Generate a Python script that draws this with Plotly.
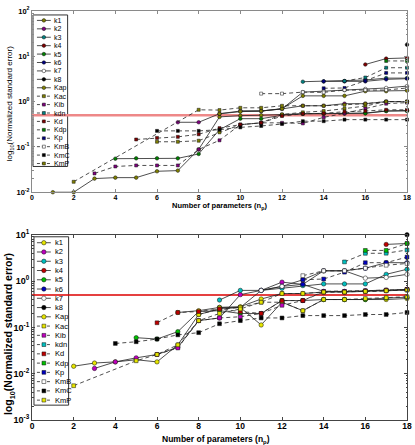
import plotly.graph_objects as go

N = None
X = list(range(1, 19))
NAMES = ["k1", "k2", "k3", "k4", "k5", "k6", "k7", "k8", "Kap", "Kac", "Kib", "kdn",
         "Kd", "Kdp", "Kp", "KmB", "KmC", "KmP"]
SYMBOLS = ["circle"] * 9 + ["square"] * 9
DASHES = ["solid"] * 9 + ["dash"] * 9
TOP_COLORS = ["#808000", "#800080", "#008080", "#800000", "#008000", "#000080", "#ffffff", "#000000",
              "#808000", "#808000", "#800080", "#008080", "#800000", "#008000", "#000080", "#ffffff",
              "#000000", "#808000"]
BOT_COLORS = ["#e6e600", "#bf00bf", "#00bfbf", "#bf0000", "#00bf00", "#0000bf", "#ffffff", "#000000",
              "#e6e600", "#e6e600", "#bf00bf", "#00bfbf", "#bf0000", "#00bf00", "#0000bf", "#ffffff",
              "#000000", "#e6e600"]
THRESHOLD = 0.5

# ---- top panel values (x = 1..18) ----
top_k1 = [0.01, 0.01, 0.020, 0.021, 0.021, 0.029, 0.030, 0.088, 0.46, 0.49, 0.50, 0.52, 0.54, 0.54, 0.55, 0.56, 0.62, 0.64]
top_k2 = [N]*6 + [0.35, 0.35, 0.54, 0.62, 0.62, 0.69, 0.81, 0.81, 0.90, 0.90, 1.0, 1.0]
top_k3 = [N]*12 + [2.75, 2.8, 2.85, 3.0, 3.3, 3.3]
top_k4 = [N]*15 + [6.6, 8.9, 9.2]
top_k5 = [N]*3 + [0.055, 0.056, 0.056, 0.056, 0.07, 0.24, 0.42, 0.42, 0.50, 0.54, 0.55, 0.55, 0.55, 0.62, 0.62]
top_k6 = [N]*13 + [2.8, 2.8, 2.8, 3.1, 3.2]
top_k7 = [N]*9 + [0.62, 0.62, 0.69, 1.62, 1.7, 1.8, 1.9, 2.0, 2.2]
top_k8 = [N]*17 + [18]
top_Kap = [N]*8 + [0.54, 0.60, 0.62, 0.70, 1.34, 1.34, 1.34, 1.7, 1.7, 1.75]
top_Kac = [N]*5 + [0.13, 0.13, 0.137, 0.21, 0.31, 0.34, 0.52, 0.58, 0.62, 0.70, 0.80, 1.0, 1.0]
top_Kib = [N, N, 0.026, 0.037, 0.039, 0.039, 0.039, 0.088, 0.14, 0.31, 0.34, 0.34, 0.33, 0.45, 0.55, 0.70, 0.90, 0.95]
top_kdn = [N]*14 + [2.85, 3.4, 5.6, 5.6]
top_Kd = [N]*4 + [0.146, 0.158, 0.167, 0.19, 0.26, 0.31, 0.34, 0.48, 0.54, 0.55, 0.60, 0.62, 0.66, 0.66]
top_Kdp = [N]*16 + [7.9, 7.9]
top_Kp = [N]*13 + [1.97, 2.0, 2.9, 4.3, 4.3]
top_KmB = [N]*10 + [1.5, 1.5, 1.62, 1.6, 1.8, 1.8, 1.8, 2.0]
top_KmC = [N]*5 + [0.226, 0.226, 0.226, 0.24, 0.27, 0.29, 0.32, 0.37, 0.37, 0.40, 0.40, 0.40, 0.40]
top_KmP = [N, 0.017, N, N, N, N, N, 0.66, 0.65, 0.73, 0.73, 0.81, 0.81, 0.81, 0.85, 0.90, 1.0, 1.0]

# ---- bottom panel values (x = 1..18) ----
bot_k1 = [N, 0.0145, 0.017, 0.018, 0.020, 0.018, 0.042, 0.19, 0.25, 0.27, 0.113, 0.35, 0.23, 0.40, 0.40, 0.40, 0.40, 0.42]
bot_k2 = [N, N, 0.013, 0.018, 0.022, 0.026, 0.037, 0.14, 0.16, 0.51, 0.63, 0.95, 0.85, 0.60, 0.60, 0.62, 0.64, 0.66]
bot_k3 = [N]*8 + [0.39, 0.63, 0.63, 0.70, 0.80, 0.87, 0.87, 0.87, 1.4, 1.8]
bot_k4 = [N]*16 + [6.2, 6.5]
bot_k5 = [N]*4 + [0.06, 0.056, 0.081, 0.22, 0.23, 0.20, 0.20, 0.38, 0.38, 0.40, 0.40, 0.40, 0.43, 0.45]
bot_k6 = [N]*8 + [0.27, 0.27, 0.63, 0.77, 0.85, 1.67, 1.67, 1.9, 2.5, 2.5]
bot_k7 = [N]*10 + [0.63, 0.77, 1.07, 1.67, 1.67, 1.16, 1.2, 1.4]
bot_k8 = [N]*17 + [10]
bot_Kap = [N]*6 + [0.21, 0.23, 0.27, 0.28, 0.41, 0.54, 0.54, 0.58, 0.58, 0.60, 0.62, 0.64]
bot_Kac = [N]*7 + [0.19, 0.25, 0.27, 0.35, 0.35, 0.23, 0.40, 0.40, 0.42, 0.44, 0.46]
bot_Kib = [N]*5 + [0.026, 0.036, 0.14, 0.16, 0.17, 0.20, 0.30, 0.38, 0.60, 0.60, 0.62, 0.64, 0.66]
bot_kdn = [N]*14 + [2.6, 3.98, 4.0, 4.7]
bot_Kd = [N]*5 + [0.126, 0.21, 0.22, 0.25, 0.22, 0.20, 0.38, 0.38, 0.58, 0.58, 0.60, 0.62, 0.66]
bot_Kdp = [N]*15 + [4.6, 4.6, 6.5]
bot_Kp = [N]*12 + [1.07, 1.11, 1.56, 2.5, 2.5, 3.3]
bot_KmB = [N]*12 + [1.31, 1.67, 1.67, 1.9, 2.2, 2.4]
bot_KmC = [N]*3 + [0.045, 0.049, 0.056, 0.069, 0.077, 0.12, 0.14, 0.16, 0.16, 0.18, 0.18, 0.18, 0.19, 0.19, 0.21]
bot_KmP = [N, 0.0055, N, N, 0.019, 0.026, 0.042, 0.14, 0.20, 0.25, 0.35, 0.54, 0.54, 0.58, 0.58, 0.60, 0.62, 0.64]

TOP = [top_k1, top_k2, top_k3, top_k4, top_k5, top_k6, top_k7, top_k8, top_Kap, top_Kac,
       top_Kib, top_kdn, top_Kd, top_Kdp, top_Kp, top_KmB, top_KmC, top_KmP]
BOT = [bot_k1, bot_k2, bot_k3, bot_k4, bot_k5, bot_k6, bot_k7, bot_k8, bot_Kap, bot_Kac,
       bot_Kib, bot_kdn, bot_Kd, bot_Kdp, bot_Kp, bot_KmB, bot_KmC, bot_KmP]

XTICKS = list(range(0, 19, 2))
TOP_YT = [0.01, 0.1, 1, 10, 100]
TOP_YL = ["10<sup>-2</sup>", "10<sup>-1</sup>", "10<sup>0</sup>", "10<sup>1</sup>", "10<sup>2</sup>"]
BOT_YT = [0.001, 0.01, 0.1, 1, 10]
BOT_YL = ["10<sup>-3</sup>", "10<sup>-2</sup>", "10<sup>-1</sup>", "10<sup>0</sup>", "10<sup>1</sup>"]

W, H = 415, 445
ML, MR, MT, MB = 32, 4, 7, 25
PW, PH = W - ML - MR, H - MT - MB
FONT = "Liberation Sans, Arial, sans-serif"


def px(xp):
    return (xp - ML) / PW


def py(yp):
    return (H - MB - yp) / PH


fig = go.Figure()

# threshold lines
fig.add_trace(go.Scatter(x=[0, 18], y=[THRESHOLD, THRESHOLD], mode="lines",
                         line=dict(color="#ee8888", width=2.5), xaxis="x", yaxis="y",
                         showlegend=False, hoverinfo="skip"))
fig.add_trace(go.Scatter(x=[0, 18], y=[THRESHOLD, THRESHOLD], mode="lines",
                         line=dict(color="#dd0000", width=1.5), xaxis="x2", yaxis="y2",
                         showlegend=False, hoverinfo="skip"))

for data, colors, xa, ya, msz in [(TOP, TOP_COLORS, "x", "y", 3.6),
                                  (BOT, BOT_COLORS, "x2", "y2", 4.4)]:
    for i, vals in enumerate(data):
        fig.add_trace(go.Scatter(
            x=X, y=vals, mode="lines+markers", connectgaps=True, name=NAMES[i],
            line=dict(color="#222222", width=0.8, dash="4px,3px" if DASHES[i] == "dash" else "solid"),
            marker=dict(symbol=SYMBOLS[i], size=msz if SYMBOLS[i] == "circle" else msz - 0.6,
                        color=colors[i], line=dict(color="#111111", width=0.5)),
            xaxis=xa, yaxis=ya, showlegend=False, cliponaxis=False))

# compact legends, drawn on a pixel-scaled helper axis
annotations = []
shapes = []
LEG = [
    dict(box=(33, 11, 68, 164), y0=16.5, dy=8.5, colors=TOP_COLORS, msz=3.6, fs=7, tx=52),
    dict(box=(34, 235, 69, 405), y0=241.0, dy=9.35, colors=BOT_COLORS, msz=4.4, fs=7.5, tx=53),
]
for leg in LEG:
    bx0, by0, bx1, by1 = leg["box"]
    shapes.append(dict(type="rect", xref="paper", yref="paper", x0=px(bx0), x1=px(bx1),
                       y0=py(by1), y1=py(by0), line=dict(color="#333333", width=1),
                       fillcolor="white", layer="below"))
    for i, name in enumerate(NAMES):
        yy = leg["y0"] + i * leg["dy"]
        fig.add_trace(go.Scatter(x=[37, 51], y=[yy, yy], mode="lines",
                                 line=dict(color="#222222", width=0.8,
                                           dash="3px,2px" if DASHES[i] == "dash" else "solid"),
                                 xaxis="x3", yaxis="y3", showlegend=False, hoverinfo="skip"))
        fig.add_trace(go.Scatter(x=[44], y=[yy], mode="markers",
                                 marker=dict(symbol=SYMBOLS[i],
                                             size=leg["msz"] if SYMBOLS[i] == "circle" else leg["msz"] - 0.6,
                                             color=leg["colors"][i],
                                             line=dict(color="#111111", width=0.5)),
                                 xaxis="x3", yaxis="y3", showlegend=False, hoverinfo="skip"))
        annotations.append(dict(x=leg["tx"], y=yy, xref="x3", yref="y3", text=name,
                                showarrow=False, xanchor="left", yanchor="middle",
                                font=dict(size=leg["fs"], family=FONT, color="black")))

# axis titles
annotations.append(dict(x=px(10), y=py(100), xref="paper", yref="paper", textangle=-90,
                        xanchor="center", yanchor="middle",
                        text="log<sub>10</sub>(Normalized standard error)", showarrow=False,
                        font=dict(size=8, family=FONT, color="black")))
annotations.append(dict(x=px(9), y=py(333), xref="paper", yref="paper", textangle=-90,
                        xanchor="center", yanchor="middle",
                        text="log<sub>10</sub>(Normalized standard error)", showarrow=False,
                        font=dict(size=10.5, family=FONT, color="black", weight="bold")))
annotations.append(dict(x=px(221.5), y=py(204), xref="paper", yref="paper",
                        xanchor="center", yanchor="middle",
                        text="Number of parameters (n<sub>p</sub>)", showarrow=False,
                        font=dict(size=7.5, family=FONT, color="black", weight="bold")))
annotations.append(dict(x=px(218), y=py(440), xref="paper", yref="paper",
                        xanchor="center", yanchor="middle",
                        text="Number of parameters (n<sub>p</sub>)", showarrow=False,
                        font=dict(size=8.5, family=FONT, color="black", weight="bold")))


def minor_vals(lo, hi):
    out = []
    for e in range(lo, hi):
        for d in range(2, 10):
            out.append(d * 10 ** e)
    return out


def xax(col, fs, anchor):
    return dict(range=[0, 18], tickmode="array", tickvals=XTICKS, ticks="inside", ticklen=3,
                tickcolor=col, linecolor=col, linewidth=1, mirror="ticks", showgrid=False,
                zeroline=False, showline=True, anchor=anchor, ticklabelstandoff=-2,
                tickfont=dict(size=fs, family=FONT, color="black", weight="bold"))


def yax(col, fs, rng, tv, tl, dom, anchor):
    return dict(type="log", range=rng, tickmode="array", tickvals=tv, ticktext=tl,
                ticks="inside", ticklen=3, tickcolor=col, linecolor=col, linewidth=1,
                mirror="ticks", showgrid=False, zeroline=False, showline=True, domain=dom,
                anchor=anchor,
                minor=dict(tickmode="array", tickvals=minor_vals(rng[0], rng[1]),
                           ticks="inside", ticklen=1.5, tickcolor=col),
                tickfont=dict(size=fs, family=FONT, color="black", weight="bold"))


fig.update_layout(
    width=W, height=H, margin=dict(l=ML, r=MR, t=MT, b=MB),
    paper_bgcolor="white", plot_bgcolor="rgba(0,0,0,0)",
    showlegend=False,
    xaxis=xax("#8a8a8a", 7, "y"),
    yaxis=yax("#8a8a8a", 7.5, [-2, 2], TOP_YT, TOP_YL, [py(190), 1.0], "x"),
    xaxis2=xax("#444444", 8.5, "y2"),
    yaxis2=yax("#444444", 9, [-3, 1], BOT_YT, BOT_YL, [0.0, py(233)], "x2"),
    xaxis3=dict(range=[ML, W - MR], domain=[0, 1], visible=False, anchor="y3", fixedrange=True),
    yaxis3=dict(range=[H - MB, MT], autorange=False, domain=[0, 1], visible=False,
                anchor="x3", fixedrange=True),
    annotations=annotations, shapes=shapes,
)

fig.write_html("out.html")
